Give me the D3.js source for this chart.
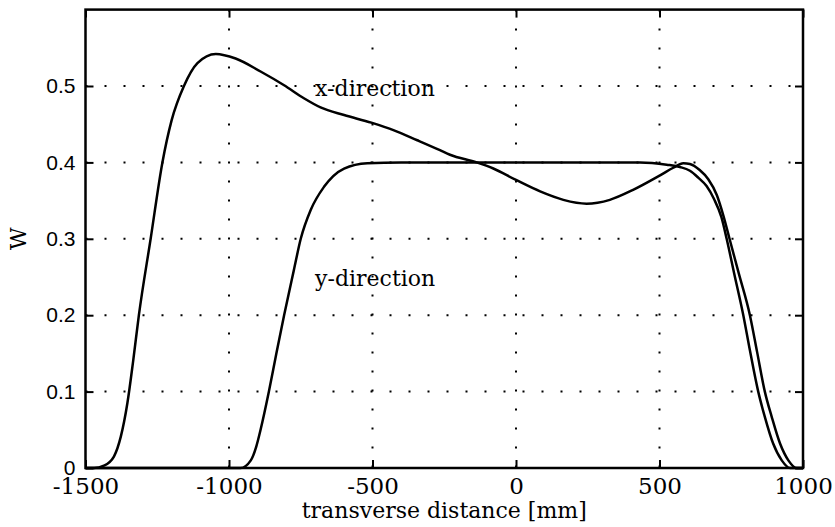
<!DOCTYPE html>
<html>
<head>
<meta charset="utf-8">
<script src="https://cdn.jsdelivr.net/npm/d3@7"></script>
<style>
  body { margin: 0; background: #fff; }
</style>
</head>
<body>
<div id="chart"></div>
<script>
// values
const xTicks = [-1500, -1000, -500, 0, 500, 1000];
const yTicks = [0, 0.1, 0.2, 0.3, 0.4, 0.5];

const xDirX = [-1500, -1470, -1436, -1401, -1377, -1354, -1334, -1314, -1273, -1232, -1200, -1157,
  -1110, -1046, -977, -890, -808, -739, -681, -599, -504, -425, -344, -265, -230, -137, -79,
  0, 84, 165, 246, 327, 408, 502, 548, 583, 606, 640, 670, 700, 722, 744, 776, 815, 840, 867, 891, 920, 949, 978, 1000];
const xDirW = [0, 0, 0.003, 0.015, 0.041, 0.085, 0.14, 0.2, 0.3, 0.4, 0.455, 0.5,
  0.53, 0.542, 0.536, 0.519, 0.501, 0.484, 0.472, 0.462, 0.452, 0.442, 0.429, 0.416, 0.41, 0.4, 0.392,
  0.377, 0.362, 0.351, 0.346, 0.351, 0.364, 0.383, 0.393, 0.399, 0.398, 0.39, 0.378, 0.357, 0.331, 0.3, 0.255, 0.2, 0.152, 0.1, 0.067, 0.032, 0.01, 0, 0];

const yDirX = [-1500, -960, -924, -905, -890, -861, -835, -808, -774, -750, -715, -669, -599, -518, -400,
  0, 432, 525, 571, 606, 635, 664, 690, 716, 734, 760, 792, 815, 844, 867, 896, 926, 955, 1000];
const yDirW = [0, 0, 0.01, 0.028, 0.05, 0.1, 0.15, 0.2, 0.259, 0.3, 0.338, 0.368, 0.392, 0.399, 0.4,
  0.4, 0.4, 0.397, 0.394, 0.389, 0.38, 0.369, 0.352, 0.328, 0.3, 0.255, 0.2, 0.154, 0.1, 0.067, 0.032, 0.01, 0, 0];

const labels = [
  { text: 'x-direction', x: -700, w: 0.487 },
  { text: 'y-direction', x: -700, w: 0.238 }
];

const width = 835;
const height = 527;
const serif = '"DejaVu Serif", serif';

const x = d3.scaleLinear().domain([-1500, 1000]).range([85.5, 803]);
const y = d3.scaleLinear().domain([0, 0.6]).range([468, 9.6]);

const svg = d3.select('#chart')
  .append('svg')
  .attr('width', width)
  .attr('height', height);

svg.append('rect').attr('width', width).attr('height', height).attr('fill', '#fff');

// dotted grid
const grid = svg.append('g')
  .attr('stroke', '#000')
  .attr('stroke-width', 2)
  .attr('stroke-dasharray', '2,17');

grid.selectAll('.gx')
  .data(xTicks.slice(1, -1))
  .enter().append('line')
  .attr('x1', d => x(d)).attr('x2', d => x(d))
  .attr('y1', y(0.6)).attr('y2', y(0));

grid.selectAll('.gy')
  .data(yTicks.slice(1))
  .enter().append('line')
  .attr('x1', x(-1500)).attr('x2', x(1000))
  .attr('y1', d => y(d)).attr('y2', d => y(d));

// axes with inward ticks
function styleAxis(g) {
  g.select('.domain').remove();
  g.selectAll('.tick line').attr('stroke', '#000').attr('stroke-width', 2);
}

svg.append('g')
  .attr('transform', `translate(0,${y(0)})`)
  .call(d3.axisBottom(x).tickValues(xTicks).tickSize(-8).tickPadding(10).tickFormat(d => String(d)))
  .call(styleAxis)
  .call(g => g.selectAll('text')
    .attr('font-family', serif)
    .attr('font-size', 23)
    .attr('fill', '#000'));

svg.append('g')
  .attr('transform', `translate(0,${y(0.6)})`)
  .call(d3.axisTop(x).tickValues(xTicks).tickSize(-8).tickFormat(''))
  .call(styleAxis);

svg.append('g')
  .attr('transform', `translate(${x(-1500)},0)`)
  .call(d3.axisLeft(y).tickValues(yTicks).tickSize(-8).tickPadding(10).tickFormat(d => String(d)))
  .call(styleAxis)
  .call(g => g.selectAll('text')
    .attr('font-family', '"Liberation Sans", Arial, sans-serif')
    .attr('font-size', 21)
    .attr('fill', '#000'));

svg.append('g')
  .attr('transform', `translate(${x(1000)},0)`)
  .call(d3.axisRight(y).tickValues(yTicks).tickSize(-8).tickFormat(''))
  .call(styleAxis);

// frame
svg.append('rect')
  .attr('x', x(-1500)).attr('y', y(0.6))
  .attr('width', x(1000) - x(-1500))
  .attr('height', y(0) - y(0.6))
  .attr('fill', 'none')
  .attr('stroke', '#000')
  .attr('stroke-width', 2.5);

// curves
const line = d3.line()
  .x(d => x(d[0]))
  .y(d => y(d[1]))
  .curve(d3.curveMonotoneX);

svg.append('path')
  .datum(d3.zip(xDirX, xDirW))
  .attr('d', line)
  .attr('fill', 'none')
  .attr('stroke', '#000')
  .attr('stroke-width', 2.5);

svg.append('path')
  .datum(d3.zip(yDirX, yDirW))
  .attr('d', line)
  .attr('fill', 'none')
  .attr('stroke', '#000')
  .attr('stroke-width', 2.5);

// curve labels
svg.selectAll('.lbl')
  .data(labels)
  .enter().append('text')
  .attr('x', d => x(d.x))
  .attr('y', d => y(d.w))
  .attr('font-family', serif)
  .attr('font-size', 22)
  .text(d => d.text);

// axis titles
svg.append('text')
  .attr('x', (x(-1500) + x(1000)) / 2)
  .attr('y', 518)
  .attr('text-anchor', 'middle')
  .attr('font-family', serif)
  .attr('font-size', 22)
  .text('transverse distance [mm]');

svg.append('text')
  .attr('transform', `translate(26,${(y(0) + y(0.6)) / 2}) rotate(-90)`)
  .attr('text-anchor', 'middle')
  .attr('font-family', serif)
  .attr('font-size', 22)
  .text('W');
</script>
</body>
</html>
